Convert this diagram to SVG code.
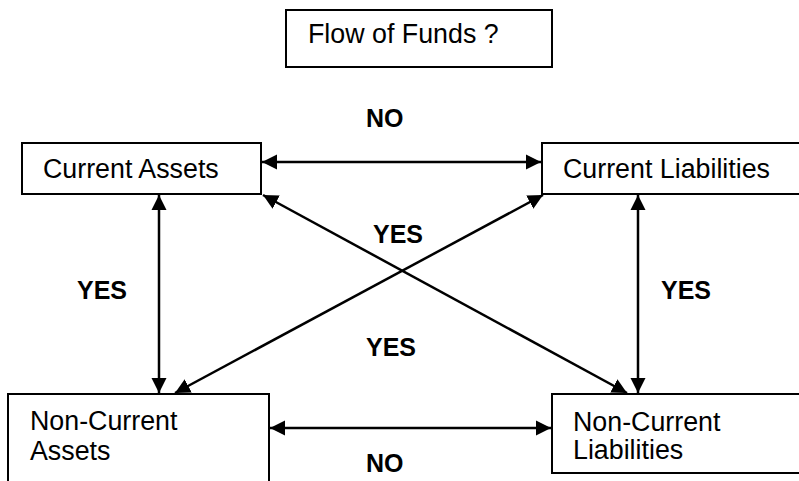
<svg xmlns="http://www.w3.org/2000/svg" width="799" height="481" viewBox="0 0 799 481">
<style>
.box{fill:#fff;stroke:#000;stroke-width:2}
.t{font-family:"Liberation Sans",Arial,sans-serif;font-size:26.8px;fill:#000}
.b{font-family:"Liberation Sans",Arial,sans-serif;font-size:25px;font-weight:bold;fill:#000}
.c{stroke:#000;stroke-width:2.5;fill:none;marker-start:url(#ah);marker-end:url(#ah)}
</style>
<defs>
<marker id="ah" markerUnits="userSpaceOnUse" markerWidth="16" markerHeight="16" viewBox="0 0 16 16" refX="15" refY="8" orient="auto-start-reverse">
<path d="M0,0.5 L15,8 L0,15.5 Z" fill="#000"/>
</marker>
</defs>
<rect width="799" height="481" fill="#fff"/>
<g id="title">
<rect class="box" x="286" y="10" width="266" height="57"/>
<text class="t" x="308" y="43">Flow of Funds ?</text>
</g>
<g id="current-assets">
<rect class="box" x="22" y="143" width="239" height="51"/>
<text class="t" x="43" y="178">Current Assets</text>
</g>
<g id="current-liabilities">
<rect class="box" x="542" y="143" width="262" height="51"/>
<text class="t" x="563" y="178">Current Liabilities</text>
</g>
<g id="non-current-assets">
<rect class="box" x="8" y="394" width="261" height="92"/>
<text class="t" x="30" y="430">Non-Current</text>
<text class="t" x="30" y="460">Assets</text>
</g>
<g id="non-current-liabilities">
<rect class="box" x="552" y="394" width="252" height="79"/>
<text class="t" x="573" y="431">Non-Current</text>
<text class="t" x="573" y="459">Liabilities</text>
</g>
<g id="connectors">
<line class="c" x1="262" y1="162" x2="541" y2="162"/>
<line class="c" x1="270" y1="428" x2="551" y2="428"/>
<line class="c" x1="159" y1="195" x2="159" y2="393"/>
<line class="c" x1="638" y1="195" x2="638" y2="393"/>
<line class="c" x1="263" y1="195" x2="627" y2="393"/>
<line class="c" x1="543" y1="195" x2="175" y2="393"/>
</g>
<g id="labels">
<text class="b" x="366" y="127">NO</text>
<text class="b" x="366" y="472">NO</text>
<text class="b" x="77" y="299">YES</text>
<text class="b" x="661" y="299">YES</text>
<text class="b" x="373" y="243">YES</text>
<text class="b" x="366" y="356">YES</text>
</g>
</svg>
